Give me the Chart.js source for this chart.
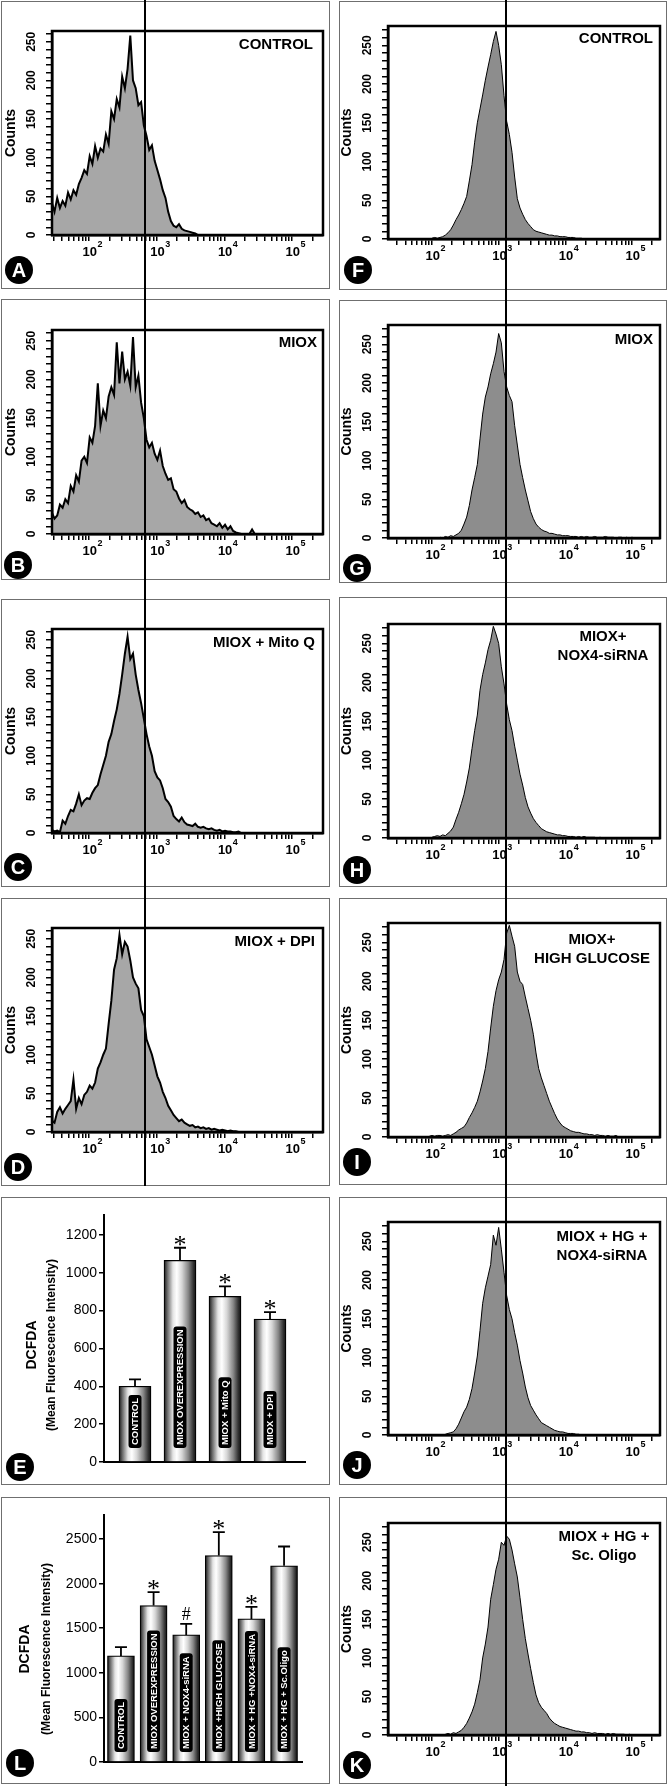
<!DOCTYPE html>
<html lang="en">
<head>
<meta charset="UTF-8">
<title>DCFDA flow cytometry</title>
<script src="https://cdn.jsdelivr.net/npm/chart.js"></script>
<style>
  body { margin: 0; background: #fff; }
  #page { position: relative; width: 669px; height: 1786px; overflow: hidden; }
  .box { position: absolute; border: 1px solid #6f6f6f; box-sizing: border-box; }
  canvas { position: absolute; }
  .gate { position: absolute; width: 2px; background: #000; z-index: 5; }
</style>
</head>
<body>
<div id="page"></div>
<script>
  // histogram counts, one bin every 0.04 decade, first bin at start exponent
  const binStep = 0.04;
  const startA = 1.45;
  const countsA = [42,30,48,35,44,38,55,46,58,52,66,74,84,79,102,92,115,100,112,108,130,118,160,150,176,165,205,190,215,258,200,190,168,172,142,128,110,116,96,84,72,58,48,30,18,12,10,14,8,6,5,4,3,2,0];
  const startB = 1.45;
  const countsB = [28,20,24,38,34,45,40,62,55,76,68,95,100,92,125,118,140,195,140,160,150,178,190,180,248,195,236,200,210,192,255,190,205,170,150,122,112,118,104,96,108,88,78,70,72,58,55,46,40,44,35,32,30,26,28,22,24,18,20,14,12,10,14,8,12,6,10,4,2,1,0,0,0,0,6,0];
  const startC = 1.45;
  const countsC = [4,2,3,1,16,12,22,30,28,38,50,36,42,45,44,52,58,62,76,88,100,118,128,145,160,180,205,232,254,225,232,205,185,168,148,128,112,100,80,72,68,58,44,40,34,22,18,15,20,14,11,10,9,12,8,7,8,6,5,6,4,3,4,2,3,2,2,1,1,2,0];
  const startD = 1.45;
  const countsD = [15,12,26,32,24,30,35,40,68,30,44,36,48,52,60,56,64,82,90,100,108,140,170,210,225,255,230,246,240,222,200,192,186,158,150,120,110,100,86,72,64,52,44,34,28,22,18,14,16,12,10,8,9,6,7,5,6,4,5,3,4,3,2,3,2,1,2,1,1,0];
  const startF = 2.00;
  const countsF = [1,2,1,2,3,5,8,12,18,25,31,38,46,55,75,96,125,150,168,186,205,222,238,255,268,250,225,185,152,135,112,80,52,40,32,25,20,16,12,10,9,8,7,6,5,5,4,4,3,3,3,2,2,2,1,1,1,0];
  const startG = 2.12;
  const countsG = [1,0,2,1,3,2,4,6,10,18,27,42,62,78,95,128,160,182,195,212,225,240,264,252,215,195,184,176,145,120,95,78,62,48,34,25,18,14,11,9,8,6,6,5,4,4,3,3,3,2,2,2,1,2,1,2,1,1,2,1,1,1,2,1,1,1,0,1,1,0,1,0,1,0];
  const startH = 2.00;
  const countsH = [1,2,3,2,4,3,6,9,14,24,33,44,56,72,90,115,138,158,190,210,225,242,254,272,262,250,220,198,172,152,138,118,100,82,68,52,40,32,25,20,16,12,10,8,7,6,5,4,4,3,3,2,2,2,1,2,1,2,1,1,1,1,0,1,0];
  const startI = 1.96;
  const countsI = [1,2,1,2,2,1,2,3,2,4,6,9,11,13,18,25,31,38,46,58,72,88,110,140,168,188,202,212,228,262,272,258,245,212,200,196,180,165,150,132,108,88,76,66,56,46,38,30,23,18,14,12,10,8,7,6,6,5,4,4,3,3,2,3,2,2,1,2,1,1,2,0];
  const startJ = 2.20;
  const countsJ = [1,2,3,4,8,14,22,30,36,46,60,80,102,135,170,190,205,220,258,245,268,240,210,180,162,150,132,116,96,80,62,48,38,32,26,21,16,14,12,10,8,6,5,4,4,3,2,2,2,1,1,0];
  const startK = 2.20;
  const countsK = [1,2,1,3,2,4,6,10,15,22,30,40,55,72,100,118,140,176,195,215,228,250,246,258,254,240,222,205,178,150,125,105,86,68,52,42,36,32,28,22,18,15,13,11,10,9,8,7,6,5,5,4,4,3,3,2,3,2,2,2,1,2,1,2,1,1,1,1,0,1,0];

  const decades = [2, 3, 4, 5];
  const countLabels = [0, 50, 100, 150, 200, 250];

  // bar panels
  const eLabels = ['CONTROL', 'MIOX OVEREXPRESSION', 'MIOX + Mito Q', 'MIOX + DPI'];
  const eMeans = [400, 1065, 875, 755];
  const eErrors = [37, 67, 53, 37];
  const eMarks = ['', '*', '*', '*'];
  const eTicks = [0, 200, 400, 600, 800, 1000, 1200];

  const lLabels = ['CONTROL', 'MIOX OVEREXPRESSION', 'MIOX + NOX4-siRNA', 'MIOX +HIGH GLUCOSE', 'MIOX + HG +NOX4-siRNA', 'MIOX + HG + Sc.Oligo'];
  const lMeans = [1190, 1755, 1425, 2315, 1605, 2200];
  const lErrors = [98, 150, 124, 262, 135, 217];
  const lMarks = ['', '*', '#', '*', '*', ''];
  const lTicks = [0, 500, 1000, 1500, 2000, 2500];

  const FONT = "'Liberation Sans', Arial, sans-serif";
  const page = document.getElementById('page');

  function makeCanvas(box) {
    const b = document.createElement('div');
    b.className = 'box';
    b.style.left = box[0] + 'px'; b.style.top = box[1] + 'px';
    b.style.width = box[2] + 'px'; b.style.height = box[3] + 'px';
    page.appendChild(b);
    const c = document.createElement('canvas');
    c.width = box[2]; c.height = box[3];
    c.style.left = box[0] + 'px'; c.style.top = box[1] + 'px';
    c.style.width = box[2] + 'px'; c.style.height = box[3] + 'px';
    page.appendChild(c);
    return c;
  }

  function logTicks(min, max) {
    const out = [];
    for (let n = Math.floor(Math.log10(min)); n <= Math.ceil(Math.log10(max)); n++) {
      for (let k = 1; k <= 9; k++) {
        const v = k * Math.pow(10, n);
        if (v >= min && v <= max) out.push({ value: v });
      }
    }
    return out;
  }

  function drawLetter(ctx, x, y, letter) {
    ctx.save();
    ctx.fillStyle = '#000';
    ctx.beginPath(); ctx.arc(x, y, 14, 0, Math.PI * 2); ctx.fill();
    ctx.fillStyle = '#fff';
    ctx.font = 'bold 20px ' + FONT;
    ctx.textAlign = 'center'; ctx.textBaseline = 'middle';
    ctx.fillText(letter, x, y + 1);
    ctx.restore();
  }

  function rotText(ctx, text, x, y) {
    ctx.save(); ctx.translate(x, y); ctx.rotate(-Math.PI / 2);
    ctx.fillText(text, 0, 0); ctx.restore();
  }

  const tickGrid = { display: true, drawOnChartArea: false, drawTicks: true, tickLength: 6, color: '#000', lineWidth: 1.5 };
  const frameBorder = { display: true, color: '#000', width: 2.5 };

  function histogram(p) {
    const [bx, by, bw, bh] = p.box;
    const [pl, pt, pr, pb] = p.plot;
    const canvas = makeCanvas(p.box);
    const points = p.counts.map((c, i) => ({ x: Math.pow(10, p.start + i * binStep), y: c }));
    const minorY = [];
    for (let v = 0; v <= p.yMax; v += 10) minorY.push({ value: v });

    const decor = {
      id: 'decor',
      afterDraw(chart) {
        const ctx = chart.ctx, a = chart.chartArea;
        ctx.save();
        ctx.strokeStyle = '#000'; ctx.lineWidth = 2.5;
        ctx.strokeRect(a.left, a.top, a.right - a.left, a.bottom - a.top);
        ctx.fillStyle = '#000';
        ctx.textAlign = 'center'; ctx.textBaseline = 'middle';
        ctx.font = 'bold 12px ' + FONT;
        countLabels.forEach(v => rotText(ctx, String(v), a.left - 20, chart.scales.y.getPixelForValue(v)));
        ctx.font = 'bold 14px ' + FONT;
        rotText(ctx, 'Counts', a.left - 41, (a.top + a.bottom) / 2);
        decades.forEach(n => {
          const x = chart.scales.x.getPixelForValue(Math.pow(10, n));
          ctx.font = 'bold 13px ' + FONT;
          ctx.textAlign = 'right';
          ctx.fillText('10', x + 8, a.bottom + 17);
          ctx.font = 'bold 9px ' + FONT;
          ctx.textAlign = 'left';
          ctx.fillText(String(n), x + 8.5, a.bottom + 10);
        });
        ctx.font = 'bold 15px ' + FONT;
        ctx.textAlign = p.titleAlign;
        p.title.forEach((t, i) => ctx.fillText(t, p.titleXY[0] - bx, p.titleXY[1] - by + i * 19));
        ctx.restore();
        drawLetter(ctx, p.letterXY[0] - bx, p.letterXY[1] - by, p.letter);
      }
    };

    new Chart(canvas, {
      type: 'line',
      data: { datasets: [{
        data: points, fill: 'origin', tension: 0,
        backgroundColor: p.fill, borderColor: '#000', borderWidth: p.line, pointRadius: 0
      }] },
      options: {
        responsive: false, animation: false, events: [],
        layout: { padding: { left: 0, top: pt - by, right: bx + bw - pr, bottom: 0 } },
        plugins: { legend: { display: false }, tooltip: { enabled: false } },
        scales: {
          x: {
            type: 'logarithmic', min: p.xMin, max: p.xMax,
            afterBuildTicks: s => { s.ticks = logTicks(p.xMin, p.xMax); },
            afterFit: s => { s.height = by + bh - pb; },
            ticks: { display: false }, grid: tickGrid, border: frameBorder
          },
          y: {
            type: 'linear', min: 0, max: p.yMax,
            afterBuildTicks: s => { s.ticks = minorY; },
            afterFit: s => { s.width = pl - bx; },
            ticks: { display: false }, grid: tickGrid, border: frameBorder
          }
        }
      },
      plugins: [decor]
    });
  }

  function barPanel(p) {
    const [bx, by, bw, bh] = p.box;
    const [pl, pt, pr, pb] = p.plot;
    const canvas = makeCanvas(p.box);
    const half = p.barW / 2;
    // bar centre in canvas pixels, same mapping as the x scale
    const centre = i => (pl - bx) + (i - p.xMin) / (p.xMax - p.xMin) * (pr - pl);

    const shade = (ctx) => {
      if (ctx.type !== 'data') return '#999';
      const cx = centre(ctx.dataIndex);
      const g = ctx.chart.ctx.createLinearGradient(cx - half, 0, cx + half, 0);
      g.addColorStop(0, '#161616');
      g.addColorStop(0.1, '#666');
      g.addColorStop(0.28, '#e4e4e4');
      g.addColorStop(0.4, '#fff');
      g.addColorStop(0.56, '#d6d6d6');
      g.addColorStop(0.76, '#868686');
      g.addColorStop(0.92, '#303030');
      g.addColorStop(1, '#111');
      return g;
    };

    const decor = {
      id: 'decor',
      afterDatasetsDraw(chart) {
        const ctx = chart.ctx, a = chart.chartArea;
        const xs = chart.scales.x, ys = chart.scales.y;
        ctx.save();
        // error bars (upper half)
        ctx.strokeStyle = '#000'; ctx.lineWidth = 1.8;
        p.means.forEach((m, i) => {
          const x = xs.getPixelForValue(i);
          const y0 = ys.getPixelForValue(m), y1 = ys.getPixelForValue(m + p.errors[i]);
          ctx.beginPath();
          ctx.moveTo(x, y0); ctx.lineTo(x, y1);
          ctx.moveTo(x - 6, y1); ctx.lineTo(x + 6, y1);
          ctx.stroke();
          const mk = p.marks[i];
          if (mk) {
            ctx.fillStyle = '#000'; ctx.textAlign = 'center'; ctx.textBaseline = 'alphabetic';
            if (mk === '*') { ctx.font = '26px "Liberation Serif", serif'; ctx.fillText('*', x, y1 + 5); }
            else { ctx.font = '18px "Liberation Serif", serif'; ctx.fillText('#', x, y1 - 4); }
          }
        });
        // labels inside bars
        ctx.font = 'bold 9.5px ' + FONT;
        ctx.textBaseline = 'middle'; ctx.textAlign = 'left';
        p.labels.forEach((t, i) => {
          const x = xs.getPixelForValue(i);
          const w = ctx.measureText(t).width + 6;
          ctx.save();
          ctx.translate(x, a.bottom - p.labelGap);
          ctx.rotate(-Math.PI / 2);
          ctx.fillStyle = '#000';
          ctx.beginPath();
          ctx.roundRect(0, -6.5, w, 13, 3);
          ctx.fill();
          ctx.fillStyle = '#fff';
          ctx.fillText(t, 3, 0.5);
          ctx.restore();
        });
        ctx.restore();
      },
      afterDraw(chart) {
        const ctx = chart.ctx, a = chart.chartArea, ys = chart.scales.y;
        ctx.save();
        ctx.fillStyle = '#000';
        ctx.font = '14px ' + FONT;
        ctx.textAlign = 'right'; ctx.textBaseline = 'middle';
        p.ticks.forEach(v => ctx.fillText(String(v), a.left - 7, ys.getPixelForValue(v)));
        ctx.textAlign = 'center';
        ctx.font = 'bold 14px ' + FONT;
        rotText(ctx, 'DCFDA', p.titleX[0] - bx, p.titleY - by);
        ctx.font = 'bold 12px ' + FONT;
        rotText(ctx, '(Mean Fluorescence Intensity)', p.titleX[1] - bx, p.titleY - by);
        ctx.restore();
        drawLetter(ctx, p.letterXY[0] - bx, p.letterXY[1] - by, p.letter);
      }
    };

    new Chart(canvas, {
      type: 'bar',
      data: { datasets: [{
        data: p.means.map((m, i) => ({ x: i, y: m })),
        backgroundColor: shade, borderColor: '#000', borderWidth: 1.2,
        barThickness: p.barW
      }] },
      options: {
        responsive: false, animation: false, events: [],
        layout: { padding: { left: 0, top: pt - by, right: bx + bw - pr, bottom: 0 } },
        plugins: { legend: { display: false }, tooltip: { enabled: false } },
        scales: {
          x: {
            type: 'linear', min: p.xMin, max: p.xMax, offset: false,
            afterFit: s => { s.height = by + bh - pb; },
            ticks: { display: false }, grid: { display: false, offset: false },
            border: { display: true, color: '#000', width: 2 }
          },
          y: {
            type: 'linear', min: 0, max: p.yMax,
            afterBuildTicks: s => { s.ticks = p.ticks.map(v => ({ value: v })); },
            afterFit: s => { s.width = pl - bx; },
            ticks: { display: false },
            grid: { display: true, drawOnChartArea: false, drawTicks: true, tickLength: 5, color: '#000', lineWidth: 1.5 },
            border: { display: true, color: '#000', width: 2 }
          }
        }
      },
      plugins: [decor]
    });
  }

  const leftX = [Math.pow(10, 1.453), Math.pow(10, 5.458)];
  const rightX = [Math.pow(10, 1.34), Math.pow(10, 5.42)];
  const leftStyle = { fill: '#a7a7a7', line: 2, yMax: 264, xMin: leftX[0], xMax: leftX[1] };
  const rightStyle = { fill: '#8d8d8d', line: 1, yMax: 275, xMin: rightX[0], xMax: rightX[1] };

  [
    Object.assign({ box: [1, 1, 329, 288], plot: [52, 31, 323, 235], start: startA, counts: countsA, title: ['CONTROL'], titleAlign: 'right', titleXY: [313, 45], letter: 'A', letterXY: [19, 270] }, leftStyle),
    Object.assign({ box: [1, 299, 329, 281], plot: [52, 330, 323, 534], start: startB, counts: countsB, title: ['MIOX'], titleAlign: 'right', titleXY: [317, 343], letter: 'B', letterXY: [18, 565] }, leftStyle),
    Object.assign({ box: [1, 599, 329, 288], plot: [52, 629, 323, 833], start: startC, counts: countsC, title: ['MIOX + Mito Q'], titleAlign: 'right', titleXY: [315, 643], letter: 'C', letterXY: [18, 867] }, leftStyle),
    Object.assign({ box: [1, 898, 329, 288], plot: [52, 928, 323, 1132], start: startD, counts: countsD, title: ['MIOX + DPI'], titleAlign: 'right', titleXY: [315, 942], letter: 'D', letterXY: [18, 1167] }, leftStyle),
    Object.assign({ box: [339, 1, 328, 289], plot: [388, 26, 660, 239], start: startF, counts: countsF, title: ['CONTROL'], titleAlign: 'right', titleXY: [653, 39], letter: 'F', letterXY: [358, 270] }, rightStyle),
    Object.assign({ box: [339, 300, 328, 283], plot: [388, 325, 660, 538], start: startG, counts: countsG, title: ['MIOX'], titleAlign: 'right', titleXY: [653, 340], letter: 'G', letterXY: [357, 568] }, rightStyle),
    Object.assign({ box: [339, 597, 328, 290], plot: [388, 624, 660, 838], start: startH, counts: countsH, title: ['MIOX+', 'NOX4-siRNA'], titleAlign: 'center', titleXY: [603, 637], letter: 'H', letterXY: [357, 870] }, rightStyle),
    Object.assign({ box: [339, 898, 328, 287], plot: [388, 923, 660, 1137], start: startI, counts: countsI, title: ['MIOX+', 'HIGH GLUCOSE'], titleAlign: 'center', titleXY: [592, 940], letter: 'I', letterXY: [357, 1162] }, rightStyle),
    Object.assign({ box: [339, 1197, 328, 288], plot: [388, 1222, 660, 1435], start: startJ, counts: countsJ, title: ['MIOX + HG +', 'NOX4-siRNA'], titleAlign: 'center', titleXY: [602, 1237], letter: 'J', letterXY: [357, 1465] }, rightStyle),
    Object.assign({ box: [339, 1497, 328, 287], plot: [388, 1523, 660, 1735], start: startK, counts: countsK, title: ['MIOX + HG +', 'Sc. Oligo'], titleAlign: 'center', titleXY: [604, 1537], letter: 'K', letterXY: [357, 1765] }, rightStyle)
  ].forEach(histogram);

  barPanel({ box: [1, 1197, 329, 288], plot: [104, 1215, 305, 1462], yMax: 1305, xMin: -0.689, xMax: 3.778, barW: 32,
    labels: eLabels, means: eMeans, errors: eErrors, marks: eMarks, ticks: eTicks,
    labelGap: 14, titleX: [32, 52], titleY: 1345, letter: 'E', letterXY: [20, 1467] });
  barPanel({ box: [1, 1497, 329, 287], plot: [104, 1515, 302, 1762], yMax: 2770, xMin: -0.52, xMax: 5.55, barW: 27,
    labels: lLabels, means: lMeans, errors: lErrors, marks: lMarks, ticks: lTicks,
    labelGap: 10, titleX: [25, 47], titleY: 1649, letter: 'L', letterXY: [20, 1763] });

  // gating lines running through the panels
  [[144, 0, 1186], [505, 0, 1786]].forEach(([x, top, bottom]) => {
    const g = document.createElement('div');
    g.className = 'gate';
    g.style.left = x + 'px'; g.style.top = top + 'px'; g.style.height = (bottom - top) + 'px';
    page.appendChild(g);
  });
</script>
</body>
</html>
